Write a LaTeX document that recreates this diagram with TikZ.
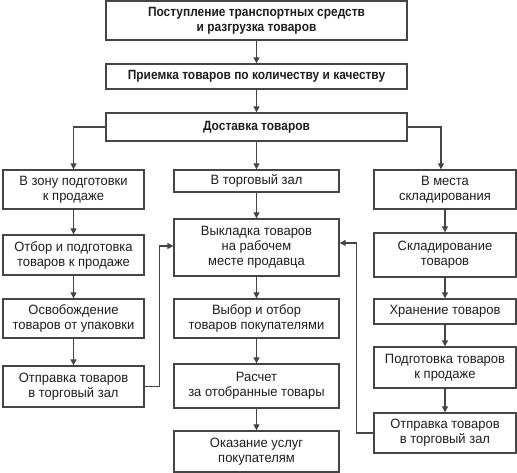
\documentclass[tikz,border=0pt]{standalone}
\usepackage{fontspec}
\setmainfont{Liberation Sans}[FakeStretch=0.96]
\newfontfamily\boldnarrow{Liberation Sans}[FakeStretch=0.89]
\usetikzlibrary{arrows.meta}
\definecolor{ln}{HTML}{454545}
\definecolor{tx}{HTML}{1E1E1E}
\tikzset{
  box/.style={draw=ln, line width=1.35pt, rectangle, inner sep=0pt, align=center,
    text=tx, font=\fontsize{13.5}{15}\selectfont},
  bbox/.style={box, font=\fontsize{13.4}{15}\selectfont\boldnarrow\bfseries},
  arr/.style={draw=ln, line width=1.3pt, -{Triangle[length=6pt,width=6pt]}}
}
\begin{document}
\begin{tikzpicture}[x=1pt,y=-1pt]
\useasboundingbox (0,0) rectangle (517,473);
% top column
\node[bbox, minimum width=301pt, minimum height=39pt] (T1) at (256.5,20.5) {Поступление транспортных средств\\и разгрузка товаров};
\node[bbox, minimum width=301pt, minimum height=25pt] (T2) at (256.5,76.5) {Приемка товаров по количеству и качеству};
\node[bbox, minimum width=301pt, minimum height=28pt] (T3) at (256.5,127) {Доставка товаров};
% left column
\node[box, minimum width=141pt, minimum height=39pt] (L1) at (73.5,189.5) {В зону подготовки\\к продаже};
\node[box, minimum width=141pt, minimum height=40pt] (L2) at (73.5,255) {Отбор и подготовка\\товаров к продаже};
\node[box, minimum width=141pt, minimum height=39pt] (L3) at (73.5,318.5) {Освобождение\\товаров от упаковки};
\node[box, minimum width=141pt, minimum height=41pt] (L4) at (73.5,386.5) {Отправка товаров\\в торговый зал};
% center column
\node[box, minimum width=165pt, minimum height=22pt] (C1) at (256.5,181) {В торговый зал};
\node[box, minimum width=165pt, minimum height=57pt] (C2) at (256.5,247.5) {Выкладка товаров\\на рабочем\\месте продавца};
\node[box, minimum width=165pt, minimum height=39pt] (C3) at (256.5,318.5) {Выбор и отбор\\товаров покупателями};
\node[box, minimum width=165pt, minimum height=44pt] (C4) at (256.5,386) {Расчет\\за отобранные товары};
\node[box, minimum width=165pt, minimum height=41pt] (C5) at (256.5,451.5) {Оказание услуг\\покупателям};
% right column
\node[box, minimum width=142pt, minimum height=39pt] (R1) at (445,189.5) {В места\\складирования};
\node[box, minimum width=142pt, minimum height=44pt] (R2) at (445,255) {Складирование\\товаров};
\node[box, minimum width=142pt, minimum height=25pt] (R3) at (445,311.5) {Хранение товаров};
\node[box, minimum width=142pt, minimum height=41pt] (R4) at (445,367.5) {Подготовка товаров\\к продаже};
\node[box, minimum width=142pt, minimum height=40pt] (R5) at (445,433) {Отправка товаров\\в торговый зал};
% connectors
\draw[arr] (T1) -- (T2);
\draw[arr] (T2) -- (T3);
\draw[arr] (T3.west) -| (L1.north);
\draw[arr] (T3) -- (C1);
\draw[arr] (T3.east) -| ([xshift=-4pt]R1.north);
\draw[arr] (L1) -- (L2);
\draw[arr] (L2) -- (L3);
\draw[arr] (L3) -- (L4);
\draw[arr] (C1) -- (C2);
\draw[arr] (C2) -- (C3);
\draw[arr] (C3) -- (C4);
\draw[arr] (C4) -- (C5);
\draw[arr] (R1) -- (R2);
\draw[arr] (R2) -- (R3);
\draw[arr] (R3) -- (R4);
\draw[arr] (R4) -- (R5);
\draw[arr] (L4.east) -- ++(15,0) |- ([yshift=1.5pt]C2.west);
\draw[arr] (R5.west) -- ++(-17,0) |- ([yshift=4.5pt]C2.east);
\end{tikzpicture}
\end{document}
